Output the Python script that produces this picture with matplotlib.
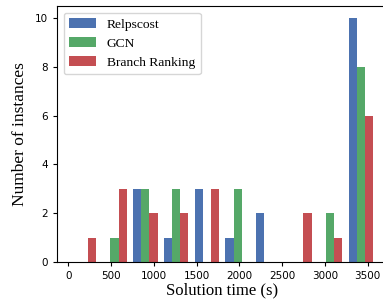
import numpy as np
import matplotlib.pyplot as plt

# histogram bins (seconds) and counts per bin
edges = np.linspace(0, 3600, 11)
relpscost = [0, 0, 3, 1, 3, 1, 2, 0, 0, 10]
gcn = [0, 1, 3, 3, 0, 3, 0, 0, 2, 8]
branch_ranking = [1, 3, 2, 2, 3, 0, 0, 2, 1, 6]
labels = ['Relpscost', 'GCN', 'Branch Ranking']
colors = ['#4C72B0', '#55A868', '#C44E52']

centers = (edges[:-1] + edges[1:]) / 2

fig = plt.figure(figsize=(3.83, 3.0), dpi=100)
ax = fig.add_axes([0.149, 0.127, 0.864, 0.853])

ax.hist([centers, centers, centers], bins=edges,
        weights=[relpscost, gcn, branch_ranking],
        color=colors, label=labels)

ax.set_xlim(-132, 3737)
ax.set_ylim(0, 10.5)
ax.set_xticks(np.arange(0, 3501, 500))
ax.set_yticks(np.arange(0, 11, 2))
ax.tick_params(labelsize=7.5, length=3, width=0.8)

ax.set_xlabel('Solution time (s)', family='Liberation Serif', fontsize=12, labelpad=1)
ax.set_ylabel('Number of instances', family='Liberation Serif', fontsize=12.5, labelpad=5)
ax.legend(loc='upper left', prop={'family': 'Liberation Serif', 'size': 9.7})

fig.savefig('out.png', dpi=100)
